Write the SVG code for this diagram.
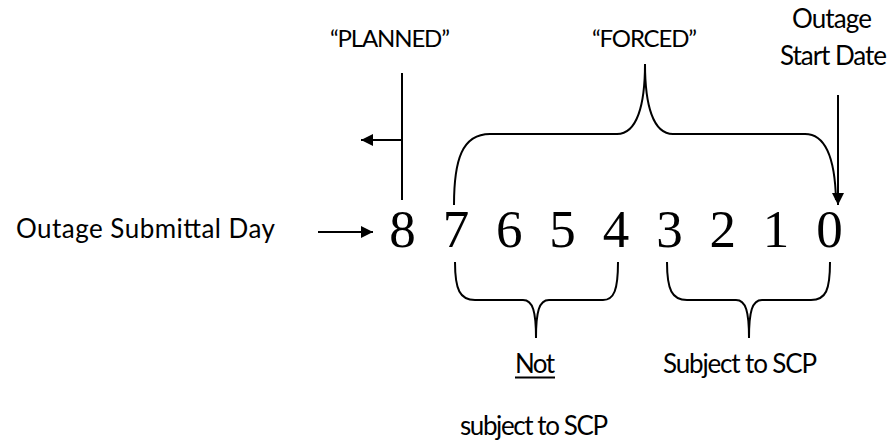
<svg xmlns="http://www.w3.org/2000/svg" width="888" height="445" viewBox="0 0 888 445">
  <style>
    .lbl { font-family: Lato, "Open Sans", "Liberation Sans", sans-serif; font-size: 26px; fill: #000; }
    .caps { font-size: 24px; }
    .num { font-family: "Liberation Serif", "Times New Roman", serif; font-size: 53px; fill: #000; text-anchor: middle; }
    .ln { fill: none; stroke: #000; stroke-width: 2; }
  </style>
  <defs>
    <marker id="ah" viewBox="0 0 10 10" refX="10" refY="5" markerWidth="7.5" markerHeight="6" markerUnits="strokeWidth" orient="auto">
      <path d="M0,0 L10,5 L0,10 Z" fill="#000"/>
    </marker>
  </defs>
  <rect width="888" height="445" fill="#fff"/>

  <!-- day numbers -->
  <g id="days">
    <text class="num" x="402.5" y="247">8</text>
    <text class="num" x="455.9" y="247">7</text>
    <text class="num" x="509.3" y="247">6</text>
    <text class="num" x="562.6" y="247">5</text>
    <text class="num" x="616" y="247">4</text>
    <text class="num" x="669.4" y="247">3</text>
    <text class="num" x="722.8" y="247">2</text>
    <text class="num" x="776.1" y="247">1</text>
    <text class="num" x="829.5" y="247">0</text>
  </g>

  <g id="submittal">
    <text class="lbl" x="16" y="238" font-size="28" textLength="259">Outage Submittal Day</text>
  </g>
  <g id="planned">
    <text class="lbl caps" x="330" y="47" textLength="120">“PLANNED”</text>
  </g>
  <g id="forced">
    <text class="lbl caps" x="592" y="47" textLength="105">“FORCED”</text>
  </g>
  <g id="start-date">
    <text class="lbl" x="792" y="28" textLength="80">Outage</text>
    <text class="lbl" x="780" y="65" textLength="107">Start Date</text>
  </g>
  <g id="not-subject">
    <text class="lbl" x="515" y="373" textLength="40">Not</text>
    <line class="ln" x1="515" y1="377.5" x2="555" y2="377.5" stroke-width="1.5"/>
    <text class="lbl" x="460" y="435" textLength="148">subject to SCP</text>
  </g>
  <g id="subject">
    <text class="lbl" x="663" y="373" textLength="154">Subject to SCP</text>
  </g>

  <g id="connectors">
    <!-- submittal pointer -->
    <line class="ln" x1="318" y1="232" x2="373" y2="232" marker-end="url(#ah)"/>
    <!-- planned boundary and leftward pointer -->
    <line class="ln" x1="402" y1="73" x2="402" y2="200"/>
    <line class="ln" x1="402" y1="140" x2="361" y2="140" marker-end="url(#ah)"/>
    <!-- start date pointer -->
    <line class="ln" x1="838" y1="95" x2="838" y2="205" marker-end="url(#ah)"/>
    <!-- forced brace over 7..0 -->
    <path class="ln" d="M454,205 C454,160 462,134 490,134 L617,134 C637,134 645,105 645,64 C645,105 653,134 673,134 L805,134 C826,134 835,160 836,200"/>
    <!-- lower brace under 7..4 -->
    <path class="ln" d="M455,262 C455,290 460,300 475,300 L523,300 C533,300 536,312 536,338 C536,312 539,300 549,300 L603,300 C614,300 618,290 618,262"/>
    <!-- lower brace under 3..0 -->
    <path class="ln" d="M667,262 C667,290 672,300 687,300 L736,300 C746,300 749,312 749,338 C749,312 752,300 762,300 L811,300 C826,300 830,290 830,262"/>
  </g>
</svg>
